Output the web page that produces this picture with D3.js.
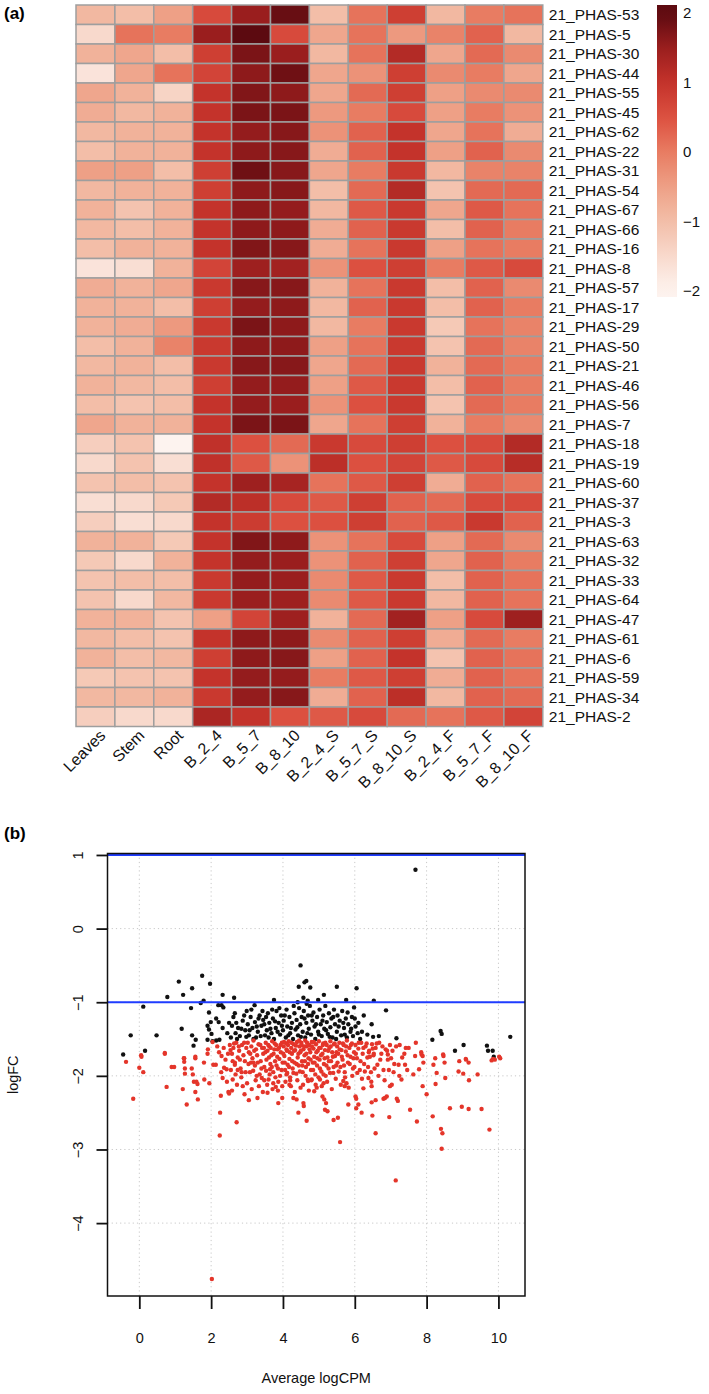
<!DOCTYPE html>
<html><head><meta charset="utf-8">
<script src="https://cdn.jsdelivr.net/npm/d3@7"></script>
<style>body{margin:0;background:#fff}svg{display:block}text{font-family:"Liberation Sans",Arial,Helvetica,sans-serif}</style>
</head><body><svg id="c" width="709" height="1394"></svg>
<script>
const rowLabels = ["21_PHAS-53","21_PHAS-5","21_PHAS-30","21_PHAS-44","21_PHAS-55","21_PHAS-45","21_PHAS-62","21_PHAS-22","21_PHAS-31","21_PHAS-54","21_PHAS-67","21_PHAS-66","21_PHAS-16","21_PHAS-8","21_PHAS-57","21_PHAS-17","21_PHAS-29","21_PHAS-50","21_PHAS-21","21_PHAS-46","21_PHAS-56","21_PHAS-7","21_PHAS-18","21_PHAS-19","21_PHAS-60","21_PHAS-37","21_PHAS-3","21_PHAS-63","21_PHAS-32","21_PHAS-33","21_PHAS-64","21_PHAS-47","21_PHAS-61","21_PHAS-6","21_PHAS-59","21_PHAS-34","21_PHAS-2"];
const colLabels = ["Leaves","Stem","Root","B_2_4","B_5_7","B_8_10","B_2_4_S","B_5_7_S","B_8_10_S","B_2_4_F","B_5_7_F","B_8_10_F"];
const heatValues = [
[-0.9,-1.0,-0.5,0.6,1.5,1.9,-1.0,0.1,0.8,-0.9,0.0,0.1],
[-1.5,0.1,0.0,1.5,2.0,0.6,-0.6,0.1,-0.4,-0.1,0.3,-0.9],
[-0.8,-0.6,-1.0,0.8,1.75,1.5,-0.9,0.1,1.2,-0.6,0.2,-0.2],
[-1.7,-0.6,0.1,0.7,1.6,1.85,-0.6,-0.3,0.8,-0.2,0.0,-0.6],
[-0.6,-0.8,-1.4,1.0,1.7,1.6,-0.6,0.2,0.8,-0.5,-0.2,-0.2],
[-0.7,-0.9,-0.8,1.0,1.75,1.75,-0.4,0.0,0.6,-0.5,0.0,-0.3],
[-0.9,-0.8,-0.8,1.0,1.55,1.65,-0.3,0.3,1.0,-0.6,0.1,-0.7],
[-1.0,-0.8,-0.8,1.0,1.6,1.65,-0.7,0.3,1.0,-0.5,0.3,-0.2],
[-0.5,-0.5,-1.0,0.8,1.85,1.65,-0.6,0.0,0.9,-0.9,-0.1,-0.1],
[-0.9,-0.8,-0.8,0.8,1.6,1.65,-1.0,0.2,1.2,-1.1,0.2,0.2],
[-0.8,-1.1,-0.8,1.0,1.6,1.55,-0.9,0.4,0.9,-0.6,0.4,0.1],
[-0.9,-1.0,-0.8,1.0,1.6,1.6,-0.7,0.3,0.9,-1.0,0.3,0.0],
[-1.0,-0.8,-0.8,1.0,1.7,1.65,-0.7,0.1,0.9,-0.5,0.1,0.0],
[-1.7,-1.6,-0.8,0.7,1.45,1.4,-0.3,0.5,0.8,0.0,0.4,0.6],
[-0.7,-0.8,-0.6,0.9,1.65,1.65,-0.8,0.1,0.9,-1.0,0.3,-0.2],
[-0.8,-0.8,-1.0,0.8,1.55,1.6,-0.9,0.3,0.9,-1.0,0.3,0.0],
[-0.8,-0.7,-0.4,0.9,1.75,1.6,-0.9,0.0,0.9,-1.2,0.1,-0.1],
[-1.0,-0.8,-0.1,0.9,1.6,1.6,-0.5,0.1,0.9,-1.1,0.2,-0.1],
[-0.9,-0.8,-1.0,0.9,1.65,1.65,-0.6,0.2,0.9,-0.8,0.2,0.0],
[-0.8,-0.9,-1.0,0.8,1.55,1.55,-0.5,0.4,0.9,-1.0,0.3,0.0],
[-1.0,-1.1,-1.0,1.0,1.55,1.5,-0.3,0.5,0.9,-1.1,0.2,0.0],
[-0.6,-0.8,-0.8,1.0,1.75,1.75,-0.6,0.1,0.8,-0.8,0.0,-0.2],
[-1.3,-1.1,-2.0,1.05,0.5,0.2,0.9,0.6,0.8,0.5,0.6,1.2],
[-1.5,-1.1,-1.6,1.05,0.4,-0.3,1.1,0.5,0.7,0.4,0.6,1.15],
[-1.1,-1.0,-1.1,1.0,1.45,1.35,0.1,0.4,0.8,-0.7,0.3,0.1],
[-1.6,-1.5,-1.2,1.2,1.1,0.6,0.4,0.8,0.3,0.2,0.6,0.6],
[-1.3,-1.6,-1.5,1.0,0.85,0.5,0.5,0.8,0.3,0.4,0.9,0.3],
[-0.8,-0.8,-1.2,1.0,1.7,1.6,-0.3,0.1,0.6,-0.5,0.2,-0.2],
[-1.2,-1.5,-0.8,1.0,1.55,1.5,-0.3,0.3,0.8,-0.6,0.3,0.0],
[-1.1,-1.0,-1.0,0.9,1.55,1.5,-0.2,0.4,0.9,-1.0,0.3,0.1],
[-1.1,-1.5,-0.9,0.9,1.5,1.45,-0.2,0.4,0.9,-0.9,0.3,0.1],
[-0.8,-0.8,-1.1,-0.5,0.7,1.45,-0.8,0.2,1.4,-0.5,0.6,1.45],
[-0.9,-1.0,-1.1,1.0,1.6,1.6,-0.2,0.3,0.8,-0.7,0.2,0.0],
[-0.8,-1.0,-0.9,0.8,1.6,1.65,-0.5,0.3,1.0,-1.1,0.3,0.1],
[-1.2,-1.1,-1.1,1.0,1.55,1.55,0.0,0.4,0.8,-0.7,0.3,0.1],
[-0.9,-0.9,-0.8,0.9,1.55,1.65,-0.7,0.3,1.1,-0.9,0.3,0.2],
[-1.3,-1.5,-1.5,1.3,1.0,0.5,0.4,0.6,0.2,0.1,0.4,0.7]
];
const legendTicks = [2,1,0,-1,-2];
const colorStops = [-2,-1.5,-1,-0.5,0,0.5,1,1.5,2];
const colorRange = ["#fdf3ef","#f8d9cc","#f3bea8","#eea086","#e87c62","#dc5040","#c4332b","#9a1e1e","#5c0a10"];

const blackPts = [
[7.69,0.80],
[0.11,-1.06],[0.78,-0.93],[1.10,-0.72],[1.22,-0.90],[1.47,-0.81],[1.44,-1.08],[1.75,-0.64],[1.79,-0.98],[1.71,-1.01],[1.97,-0.75],[1.94,-1.14],[2.20,-1.04],[2.29,-1.04],[2.34,-1.07],[2.32,-0.90],[2.64,-0.94],[2.99,-1.12],[3.21,-1.04],[3.75,-0.97],
[4.49,-0.50],[4.60,-0.73],[4.65,-0.71],[4.44,-0.79],[4.76,-0.80],[4.57,-0.94],[4.41,-1.00],[4.69,-0.98],[5.14,-0.90],[5.50,-0.79],[6.05,-0.81],[4.98,-0.97],[5.76,-0.97],[6.53,-0.98],[4.66,-1.02],[6.87,-1.11],[5.98,-1.07],
[6.47,-1.30],[6.35,-1.44],[6.51,-1.47],[6.67,-1.46],[7.16,-1.49],[8.16,-1.51],[8.39,-1.39],[8.42,-1.43],[8.79,-1.66],[9.03,-1.58],[9.68,-1.59],[9.71,-1.66],[9.84,-1.66],[9.87,-1.74],[10.33,-1.47],
[-0.24,-1.45],[0.48,-1.45],[0.16,-1.66],[-0.45,-1.71],[1.18,-1.36],[1.47,-1.45],[1.57,-1.51],[1.51,-1.59],
[1.90,-1.32],[1.94,-1.37],[1.99,-1.27],[2.01,-1.43],[1.90,-1.51],[2.14,-1.22],[2.21,-1.27],[2.32,-1.35],[2.04,-1.53],[2.14,-1.52],[2.23,-1.51],
[2.55,-1.48],[2.62,-1.20],[2.70,-1.28],[2.75,-1.35],[2.68,-1.42],[2.80,-1.46],[2.88,-1.25],[2.95,-1.38],[3.02,-1.30],[3.05,-1.45],[3.10,-1.20],[3.15,-1.35],[3.22,-1.27],[3.25,-1.48],[3.30,-1.40],[3.35,-1.18],[3.40,-1.32],[3.45,-1.24],[3.50,-1.45],[3.55,-1.38],[3.58,-1.15],[3.62,-1.28],[3.68,-1.42],[3.72,-1.22],[3.75,-1.50],[3.80,-1.35],[3.82,-1.12],[3.88,-1.28],[3.92,-1.44],[3.95,-1.18],[4.00,-1.38],[4.02,-1.25],[4.08,-1.48],[4.10,-1.10],[4.12,-1.33],[4.18,-1.20],[4.20,-1.42],[4.25,-1.28],[4.28,-1.50],[4.32,-1.15],[4.35,-1.37],[4.38,-1.24],[4.42,-1.45],[4.45,-1.08],[4.48,-1.30],[4.52,-1.20],[4.55,-1.40],[4.58,-1.12],[4.62,-1.48],[4.65,-1.28],[4.70,-1.18],[4.72,-1.36],[4.75,-1.05],[4.78,-1.44],[4.82,-1.25],[4.85,-1.14],[4.88,-1.33],[4.90,-1.50],[4.95,-1.20],[4.98,-1.40],[5.02,-1.10],[5.05,-1.30],[5.08,-1.46],[5.12,-1.18],[5.15,-1.36],[5.18,-1.05],[5.22,-1.27],[5.25,-1.43],[5.28,-1.15],[5.32,-1.34],[5.35,-1.22],[5.38,-1.48],[5.42,-1.10],[5.45,-1.30],[5.50,-1.40],[5.52,-1.18],[5.58,-1.25],[5.62,-1.45],[5.65,-1.12],[5.70,-1.35],[5.75,-1.22],[5.78,-1.48],[5.82,-1.30],[5.88,-1.40],[5.92,-1.20],[5.95,-1.46],[6.02,-1.33],[6.08,-1.42],[6.15,-1.50],
[2.58,-1.32],[2.66,-1.15],[2.72,-1.50],[2.84,-1.36],[2.92,-1.18],[2.98,-1.47],[3.07,-1.38],[3.12,-1.10],[3.18,-1.50],[3.27,-1.33],[3.32,-1.22],[3.38,-1.46],[3.43,-1.12],[3.48,-1.30],[3.53,-1.20],[3.60,-1.48],[3.65,-1.36],[3.70,-1.10],[3.78,-1.26],[3.85,-1.40],[3.90,-1.08],[3.97,-1.32],[4.05,-1.18],[4.15,-1.45],[4.22,-1.35],[4.30,-1.05],[4.40,-1.34],[4.50,-1.47],[4.60,-1.22],[4.68,-1.42],[4.80,-1.18],[4.92,-1.30],[5.00,-1.44],[5.10,-1.25],[5.20,-1.38],[5.30,-1.47],[5.40,-1.20],[5.48,-1.50],[5.55,-1.33],[5.68,-1.28],[5.72,-1.44],[5.80,-1.14],[5.90,-1.36],[6.00,-1.22],[6.10,-1.28],[6.20,-1.40],[6.25,-1.18],[2.45,-1.42],[2.50,-1.28]
];
const redPts = [
[-0.37,-1.81],[-0.17,-2.31],[0.00,-1.89],[0.11,-1.95],[0.05,-1.72],[0.71,-1.69],[0.76,-2.15],[0.90,-1.88],[0.97,-1.88],[1.21,-2.18],[1.25,-1.76],[1.25,-1.81],[1.27,-1.90],[1.27,-1.97],[1.32,-2.39],[1.46,-1.90],[1.49,-1.98],[1.56,-1.74],[1.52,-2.08],[1.59,-2.08],[1.62,-2.11],[1.56,-2.22],[1.63,-2.32],[1.80,-1.82],[1.81,-2.05],[1.90,-1.70],[1.95,-2.10],[2.02,-4.76],[2.06,-1.85],[2.13,-1.85],[2.25,-2.50],[2.24,-2.81],[2.27,-2.27],[2.32,-2.03],[2.36,-1.89],[2.43,-1.91],[2.48,-2.22],[2.50,-2.24],[2.58,-2.20],[2.71,-2.63],[2.60,-1.80],[2.66,-1.82],[2.74,-1.92],[2.85,-1.95],[2.88,-2.14],[2.93,-2.25],[3.05,-2.33],[3.11,-1.82],[3.18,-1.82],[3.29,-2.30],[3.27,-2.00],[3.41,-2.03],[3.48,-2.06],[3.57,-2.23],[3.64,-1.91],[3.73,-2.10],[3.80,-2.15],[3.86,-2.20],[3.87,-2.37],[3.98,-2.30],[4.10,-1.98],[4.20,-2.06],[4.18,-2.12],[4.29,-2.30],[4.38,-2.32],[4.43,-2.50],[4.57,-2.37],[4.58,-2.41],[4.66,-2.61],[4.70,-2.07],[4.80,-2.05],[4.87,-2.21],[4.94,-2.16],[5.03,-2.05],[5.13,-2.10],[5.10,-2.28],[5.15,-2.32],[5.20,-2.37],[5.17,-2.46],[5.24,-2.48],[5.41,-2.60],[5.53,-2.57],[5.59,-2.90],[5.68,-2.07],[5.72,-2.14],[5.77,-2.10],[5.82,-2.39],[6.02,-2.28],[6.04,-2.31],[6.04,-2.44],[6.10,-2.39],[6.19,-2.50],[6.24,-2.17],[6.38,-2.03],[6.47,-2.14],[6.47,-2.36],[6.58,-2.33],[6.49,-2.54],[6.58,-2.78],[6.80,-2.31],[6.84,-2.30],[6.89,-2.28],[6.96,-2.56],[6.98,-2.14],[7.03,-2.12],[7.10,-1.84],[7.14,-3.42],[7.17,-2.31],[7.20,-2.34],[7.24,-2.00],[7.40,-1.85],[7.54,-2.46],[7.63,-1.98],[7.73,-2.62],[7.79,-1.91],[7.89,-2.14],[8.00,-2.25],[7.86,-1.71],[7.91,-1.82],[8.17,-2.55],[8.19,-1.85],[8.25,-2.11],[8.28,-1.96],[8.40,-2.72],[8.44,-2.78],[8.42,-2.99],[8.47,-1.73],[8.50,-1.82],[8.52,-2.03],[8.65,-2.44],[8.89,-1.94],[8.91,-1.80],[9.10,-1.78],[9.17,-1.82],[8.98,-2.42],[9.02,-1.97],[9.18,-2.06],[9.17,-2.45],[9.42,-1.98],[9.53,-2.45],[9.75,-2.73],[9.81,-1.79],[9.90,-1.78],[10.02,-1.74],
[0.06,-1.74],[0.71,-1.70],[1.24,-1.76],[1.56,-1.76],[1.91,-1.64],[2.04,-1.54],[2.17,-1.60],[2.29,-1.73],[2.54,-1.65],
[7.42,-1.62],[7.68,-1.73],[7.89,-1.73],[8.24,-1.76],[8.46,-1.71],[9.09,-1.77],[10.05,-1.76],[9.85,-1.77],[6.92,-1.71],[6.39,-1.68],[6.53,-1.70],
[2.52,-1.58],[2.58,-1.70],[2.62,-1.62],[2.66,-1.85],[2.70,-1.55],[2.74,-1.75],[2.78,-1.66],[2.82,-1.90],[2.86,-1.58],[2.90,-1.72],[2.94,-1.80],[2.98,-1.62],
[3.02,-1.55],[3.05,-1.68],[3.08,-1.95],[3.12,-1.60],[3.15,-1.76],[3.18,-1.52],[3.22,-1.86],[3.25,-1.64],[3.28,-1.72],[3.32,-1.57],[3.35,-1.98],[3.38,-1.80],[3.42,-1.62],[3.45,-1.70],[3.48,-1.88],
[3.52,-1.55],[3.54,-1.78],[3.57,-1.66],[3.60,-2.05],[3.62,-1.60],[3.65,-1.84],[3.68,-1.72],[3.70,-1.53],[3.73,-1.95],[3.76,-1.64],[3.78,-1.80],[3.81,-1.58],[3.84,-1.74],[3.86,-1.90],[3.89,-1.62],[3.92,-2.00],[3.94,-1.68],[3.97,-1.55],[3.99,-1.82],
[4.02,-1.60],[4.04,-1.73],[4.06,-1.92],[4.09,-1.56],[4.11,-1.66],[4.13,-1.85],[4.16,-1.53],[4.18,-1.77],[4.20,-2.02],[4.23,-1.62],[4.25,-1.70],[4.27,-1.90],[4.30,-1.57],[4.32,-1.82],[4.34,-1.65],[4.37,-1.97],[4.39,-1.54],[4.41,-1.75],[4.44,-1.86],[4.46,-1.60],[4.48,-1.68],
[4.51,-1.55],[4.53,-1.80],[4.55,-1.95],[4.57,-1.64],[4.60,-1.72],[4.62,-1.52],[4.64,-1.88],[4.66,-1.60],[4.69,-2.05],[4.71,-1.76],[4.73,-1.58],[4.76,-1.68],[4.78,-1.92],[4.80,-1.54],[4.83,-1.82],[4.85,-1.63],[4.87,-1.74],[4.90,-1.98],[4.92,-1.57],[4.95,-1.86],[4.97,-1.66],
[5.00,-1.53],[5.02,-1.78],[5.05,-1.62],[5.07,-1.94],[5.10,-1.70],[5.12,-1.56],[5.14,-1.84],[5.17,-1.65],[5.19,-2.00],[5.22,-1.58],[5.24,-1.75],[5.27,-1.90],[5.29,-1.62],[5.32,-1.53],[5.34,-1.80],[5.37,-1.68],[5.40,-1.96],[5.42,-1.57],[5.45,-1.73],[5.48,-1.86],
[5.51,-1.60],[5.54,-1.70],[5.57,-1.55],[5.60,-1.88],[5.63,-1.65],[5.66,-1.78],[5.69,-1.58],[5.72,-1.95],[5.75,-1.67],[5.78,-1.52],[5.81,-1.82],[5.85,-1.62],[5.88,-1.74],[5.92,-1.56],[5.95,-1.90],[5.98,-1.68],
[6.02,-1.58],[6.06,-1.76],[6.10,-1.63],[6.14,-1.92],[6.18,-1.55],[6.22,-1.70],[6.26,-1.84],[6.30,-1.60],[6.35,-1.75],[6.40,-1.66],[6.45,-1.95],[6.48,-1.57],
[6.52,-1.72],[6.58,-1.62],[6.63,-1.85],[6.68,-1.55],[6.74,-1.70],[6.80,-1.92],[6.86,-1.64],[6.92,-1.78],[6.98,-1.58],
[7.05,-1.66],[7.25,-1.58],[7.32,-1.75],[7.50,-1.62],[7.70,-1.55],[7.85,-1.68],
[2.22,-1.68],[2.28,-1.95],[2.35,-1.62],[2.40,-1.78],[2.44,-2.08],[2.47,-1.70],[2.55,-1.92],[2.60,-2.05],[2.64,-1.56],[2.68,-1.98],[2.72,-2.12],[2.77,-1.60],[2.80,-1.78],[2.84,-2.02],[2.92,-1.55],[2.96,-1.95],[3.00,-2.10],[3.04,-1.84],[3.09,-1.70],[3.13,-2.18],[3.17,-1.93],[3.20,-1.66],[3.24,-2.06],[3.30,-1.82],[3.33,-2.14],[3.37,-1.58],[3.40,-1.90],[3.44,-2.22],[3.47,-1.62],
[3.51,-1.68],[3.53,-1.93],[3.56,-2.12],[3.59,-1.58],[3.61,-1.75],[3.63,-1.98],[3.66,-1.62],[3.69,-1.88],[3.71,-2.18],[3.74,-1.70],[3.77,-1.56],[3.79,-2.02],[3.82,-1.86],[3.85,-1.64],[3.87,-2.08],[3.90,-1.77],[3.93,-1.58],[3.96,-1.92],[3.98,-2.14],
[4.01,-1.70],[4.03,-1.54],[4.05,-1.82],[4.07,-2.08],[4.10,-1.64],[4.12,-1.96],[4.14,-1.58],[4.17,-1.88],[4.19,-1.68],[4.22,-2.14],[4.24,-1.55],[4.26,-1.80],[4.29,-1.96],[4.31,-1.66],[4.33,-2.22],[4.36,-1.59],[4.38,-1.84],[4.40,-2.06],[4.43,-1.70],[4.45,-1.52],[4.47,-1.94],[4.49,-2.16],
[4.50,-1.66],[4.52,-1.58],[4.54,-1.86],[4.56,-2.12],[4.59,-1.60],[4.61,-1.80],[4.63,-2.00],[4.65,-1.70],[4.67,-1.55],[4.70,-1.84],[4.72,-2.20],[4.74,-1.64],[4.77,-1.78],[4.79,-2.06],[4.81,-1.60],[4.84,-1.92],[4.86,-1.54],[4.88,-1.82],[4.91,-2.12],[4.93,-1.68],[4.96,-1.76],[4.99,-2.02],
[5.01,-1.62],[5.03,-1.90],[5.06,-1.72],[5.08,-2.14],[5.11,-1.58],[5.13,-1.98],[5.16,-1.76],[5.18,-1.55],[5.21,-1.86],[5.23,-2.08],[5.26,-1.66],[5.28,-1.80],[5.31,-1.96],[5.33,-1.60],[5.36,-2.18],[5.39,-1.74],[5.41,-1.88],[5.44,-1.56],[5.47,-2.04],[5.49,-1.68],
[5.52,-1.82],[5.55,-1.94],[5.58,-1.64],[5.61,-2.12],[5.64,-1.74],[5.67,-1.56],[5.70,-1.86],[5.73,-2.02],[5.76,-1.60],[5.80,-1.72],[5.83,-2.16],[5.86,-1.84],[5.89,-1.58],[5.93,-2.00],[5.96,-1.76],[5.99,-1.88],
[6.03,-1.70],[6.07,-1.96],[6.11,-1.55],[6.16,-1.80],[6.20,-2.04],[6.24,-1.62],[6.28,-1.94],[6.33,-1.56],[6.37,-1.88],[6.42,-1.74],[6.46,-2.08],[6.50,-1.63],
[6.55,-1.90],[6.61,-1.56],[6.66,-2.00],[6.71,-1.78],[6.77,-1.60],[6.83,-2.06],[6.90,-1.66],[6.95,-1.92],[7.01,-1.76],[7.08,-1.95],[7.15,-1.60],[7.22,-1.85],[7.30,-2.05],[7.38,-1.70],[7.46,-1.92]
];
const xTicks = [0,2,4,6,8,10];
const yTicks = [1,0,-1,-2,-3,-4];
const hLines = [1,-1];

const svg = d3.select("#c");
svg.append("rect").attr("width",709).attr("height",1394).attr("fill","#fff");

// ---------- Panel (a) heatmap ----------
const hmLeft = 76, hmTop = 5, cellW = 38.9, cellH = 19.5;
const xb = d3.scaleBand().domain(colLabels).range([hmLeft, hmLeft + cellW*colLabels.length]);
const yb = d3.scaleBand().domain(rowLabels).range([hmTop, hmTop + cellH*rowLabels.length]);
const color = d3.scaleLinear().domain(colorStops).range(colorRange).clamp(true);

const cells = [];
heatValues.forEach((row,i)=>row.forEach((v,j)=>cells.push({r:rowLabels[i],c:colLabels[j],v})));
svg.append("g").selectAll("rect").data(cells).join("rect")
  .attr("x",d=>xb(d.c)).attr("y",d=>yb(d.r))
  .attr("width",xb.bandwidth()).attr("height",yb.bandwidth())
  .attr("fill",d=>color(d.v)).attr("stroke","#9e9e9e").attr("stroke-width",1.5);

svg.append("g").selectAll("text").data(rowLabels).join("text")
  .attr("x",xb.range()[1]+6).attr("y",d=>yb(d)+yb.bandwidth()/2)
  .attr("dy","0.36em").attr("font-size",15.5).attr("fill","#111").text(d=>d);

const hmBottom = yb.range()[1];
svg.append("g").selectAll("text").data(colLabels).join("text")
  .attr("transform",d=>`translate(${xb(d)+xb.bandwidth()/2+11},${hmBottom+10}) rotate(-45)`)
  .attr("text-anchor","end").attr("font-size",16).attr("fill","#111").text(d=>d);

// legend
const lgX = 657, lgW = 20;
const ly = d3.scaleLinear().domain([2,-2]).range([13,291]);
const lgTopV = ly.invert(5), lgBotV = ly.invert(297);
const defs = svg.append("defs");
const grad = defs.append("linearGradient").attr("id","lg").attr("x1",0).attr("y1",0).attr("x2",0).attr("y2",1);
d3.range(0,1.0001,0.05).forEach(t=>{
  const v = lgTopV + (lgBotV-lgTopV)*t;
  grad.append("stop").attr("offset",t).attr("stop-color",color(v));
});
svg.append("rect").attr("x",lgX).attr("y",ly(lgTopV)).attr("width",lgW).attr("height",ly(lgBotV)-ly(lgTopV)).attr("fill","url(#lg)");
svg.append("g").selectAll("text").data(legendTicks).join("text")
  .attr("x",lgX+lgW+6).attr("y",d=>ly(d)).attr("dy","0.36em")
  .attr("font-size",15).attr("fill","#111").text(d=>d<0?"\u2212"+Math.abs(d):d);

svg.append("text").attr("x",4).attr("y",19).attr("font-size",17).attr("font-weight","bold").text("(a)");
svg.append("text").attr("x",4).attr("y",839).attr("font-size",17).attr("font-weight","bold").text("(b)");

// ---------- Panel (b) scatter ----------
const pL = 107.5, pR = 525, pT = 853.5, pB = 1296;
const x = d3.scaleLinear().domain([-0.886,10.74]).range([pL,pR]);
const y = d3.scaleLinear().domain([-4.99,1.02]).range([pB,pT]);

const grid = svg.append("g").attr("stroke","#c8c8c8").attr("stroke-width",1).attr("stroke-dasharray","1.2,3");
grid.selectAll("line.v").data(xTicks).join("line").attr("class","v")
  .attr("x1",d=>x(d)).attr("x2",d=>x(d)).attr("y1",pT).attr("y2",pB);
grid.selectAll("line.h").data(yTicks).join("line").attr("class","h")
  .attr("x1",pL).attr("x2",pR).attr("y1",d=>y(d)).attr("y2",d=>y(d));

svg.append("g").selectAll("circle").data(blackPts).join("circle")
  .attr("cx",d=>x(d[0])).attr("cy",d=>y(d[1])).attr("r",2.2).attr("fill","#111");
svg.append("g").selectAll("circle").data(redPts).join("circle")
  .attr("cx",d=>x(d[0])).attr("cy",d=>y(d[1])).attr("r",2.2).attr("fill","#e4352a");

svg.append("g").selectAll("line").data(hLines).join("line")
  .attr("x1",pL).attr("x2",pR).attr("y1",d=>y(d)).attr("y2",d=>y(d))
  .attr("stroke","#1f3cff").attr("stroke-width",2);

svg.append("rect").attr("x",pL).attr("y",pT).attr("width",pR-pL).attr("height",pB-pT)
  .attr("fill","none").attr("stroke","#111").attr("stroke-width",1.5);

const xAxis = svg.append("g").attr("transform",`translate(0,${pB})`)
  .call(d3.axisBottom(x).tickValues(xTicks).tickSize(13).tickPadding(24).tickFormat(d3.format("d")));
const yAxis = svg.append("g").attr("transform",`translate(${pL},0)`)
  .call(d3.axisLeft(y).tickValues(yTicks).tickSize(11).tickPadding(8).tickFormat(d=>d<0?"\u2212"+Math.abs(d):d));
[xAxis,yAxis].forEach(a=>{
  a.select(".domain").remove();
  a.selectAll(".tick line").attr("stroke","#111").attr("stroke-width",1.8);
  a.selectAll(".tick text").attr("font-size",14.5).attr("fill","#111").attr("font-family",'"Liberation Sans",Arial,sans-serif');
});
yAxis.selectAll(".tick text").each(function(){
  d3.select(this).attr("text-anchor","middle").attr("x",null).attr("dy",null)
    .attr("transform","translate(-25,0) rotate(-90)");
});

svg.append("text").attr("x",(pL+pR)/2).attr("y",1383).attr("text-anchor","middle")
  .attr("font-size",14.5).attr("fill","#111").text("Average logCPM");
svg.append("text").attr("transform",`translate(18,${(pT+pB)/2}) rotate(-90)`).attr("text-anchor","middle")
  .attr("font-size",14.5).attr("fill","#111").text("logFC");
</script></body></html>
